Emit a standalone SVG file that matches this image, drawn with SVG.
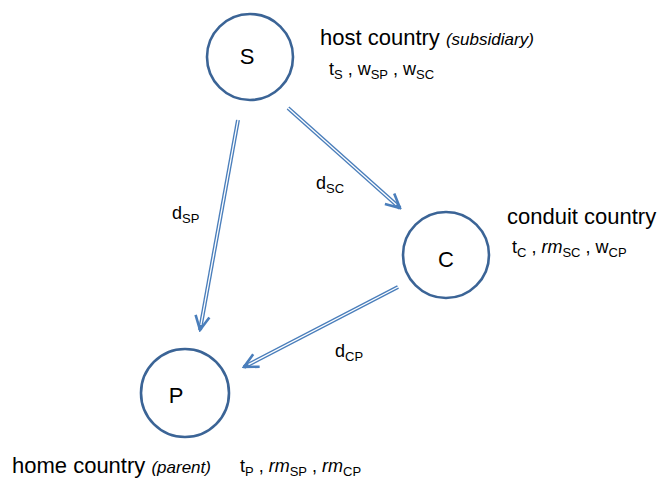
<svg xmlns="http://www.w3.org/2000/svg" width="665" height="478" viewBox="0 0 665 478">
<style>
.node{fill:#fff;stroke:#3b6496;stroke-width:2.6}
.lbl{font-family:"Liberation Sans",Arial,sans-serif;fill:#000}
.big{font-size:22px}
.par{font-size:18px}
.it{font-style:italic}
.sub{font-size:13px}
.note{font-size:17px;font-style:italic}
.outer{stroke:#4a7ebb;stroke-width:4;fill:none}
.inner{stroke:#fff;stroke-width:1.3;fill:none}
</style>
<defs>
<marker id="ah" markerUnits="userSpaceOnUse" viewBox="-16 -9 18 18" refX="0" refY="0" markerWidth="18" markerHeight="18" orient="auto">
<path d="M-14,-7 L0,0 L-14,7" fill="none" stroke="#4a7ebb" stroke-width="2.6" stroke-linejoin="miter"/>
</marker>
</defs>
<rect width="665" height="478" fill="#fff"/>
<g id="connectors">
<g id="e-SP">
<line class="outer" x1="238" y1="120" x2="200" y2="330" marker-end="url(#ah)"/>
<line class="inner" x1="238" y1="120" x2="200.9" y2="325"/>
</g>
<g id="e-SC">
<line class="outer" x1="288" y1="108" x2="400" y2="208" marker-end="url(#ah)"/>
<line class="inner" x1="288" y1="108" x2="396.3" y2="204.7"/>
</g>
<g id="e-CP">
<line class="outer" x1="398" y1="287" x2="244" y2="367" marker-end="url(#ah)"/>
<line class="inner" x1="398" y1="287" x2="248.5" y2="364.6"/>
</g>
<text class="lbl par" x="172" y="219">d<tspan class="sub" dy="4">SP</tspan></text>
<text class="lbl par" x="316" y="189">d<tspan class="sub" dy="4">SC</tspan></text>
<text class="lbl par" x="335" y="357">d<tspan class="sub" dy="4">CP</tspan></text>
</g>
<g id="node-S">
<circle class="node" cx="250" cy="57" r="43"/>
<text class="lbl big" x="247" y="64" text-anchor="middle">S</text>
<text class="lbl big" x="320" y="45">host country <tspan class="note">(subsidiary)</tspan></text>
<text class="lbl par" x="329" y="75">t<tspan class="sub" dy="4">S</tspan><tspan dy="-4"> , w</tspan><tspan class="sub" dy="4">SP</tspan><tspan dy="-4"> , w</tspan><tspan class="sub" dy="4">SC</tspan></text>
</g>
<g id="node-C">
<circle class="node" cx="446" cy="255" r="43"/>
<text class="lbl big" x="446" y="267" text-anchor="middle">C</text>
<text class="lbl big" x="507" y="224">conduit country</text>
<text class="lbl par" x="512" y="253">t<tspan class="sub" dy="4">C</tspan><tspan dy="-4"> , </tspan><tspan class="it">rm</tspan><tspan class="sub" dy="4">SC</tspan><tspan dy="-4"> , w</tspan><tspan class="sub" dy="4">CP</tspan></text>
</g>
<g id="node-P">
<circle class="node" cx="185" cy="393" r="44"/>
<text class="lbl big" x="176" y="403" text-anchor="middle">P</text>
<text class="lbl big" x="12" y="473">home country <tspan class="note">(parent)</tspan></text>
<text class="lbl par" x="240" y="472">t<tspan class="sub" dy="4">P</tspan><tspan dy="-4"> , </tspan><tspan class="it">rm</tspan><tspan class="sub" dy="4">SP</tspan><tspan dy="-4"> , </tspan><tspan class="it">rm</tspan><tspan class="sub" dy="4">CP</tspan></text>
</g>
</svg>
